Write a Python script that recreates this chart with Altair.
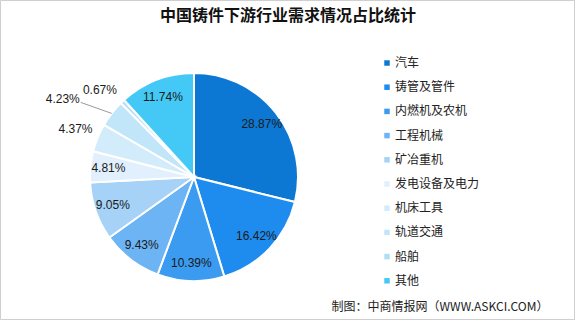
import altair as alt
import pandas as pd

categories = ["汽车", "铸管及管件", "内燃机及农机", "工程机械", "矿冶重机",
              "发电设备及电力", "机床工具", "轨道交通", "船舶", "其他"]
values = [28.87, 16.42, 10.39, 9.43, 9.05, 4.81, 4.37, 4.23, 0.67, 11.74]
palette = ["#0c78d4", "#1e8cee", "#3b9bf0", "#6cb4f4", "#a6d2f7",
           "#e1f0fc", "#d3ecfb", "#c2e6f9", "#afdff7", "#44c9f7"]
title_text = "中国铸件下游行业需求情况占比统计"
source_text = "制图：中商情报网（WWW.ASKCI.COM）"

W, H = 576, 322
CX, CY, R = 194, 177, 104

df = pd.DataFrame({"category": categories, "value": values,
                   "idx": list(range(len(categories)))})
one = pd.DataFrame({"k": [0]})

base = alt.Chart(df)

color = alt.Color(
    "category:N",
    scale=alt.Scale(domain=categories, range=palette),
    sort=categories,
    legend=alt.Legend(
        title=None, orient="none", legendX=381, legendY=57, padding=0,
        symbolType="square", symbolSize=30, symbolStrokeWidth=0,
        labelFontSize=12, labelFont="Noto Sans CJK SC", labelColor="#222222",
        rowPadding=12.2, labelOffset=2,
    ),
)

pie = base.mark_arc(outerRadius=R, stroke="white", strokeWidth=2).encode(
    theta=alt.Theta("value:Q", stack=True),
    order=alt.Order("idx:Q"),
    color=color,
    x=alt.value(CX),
    y=alt.value(CY),
)

lab = (
    base.transform_window(cum="sum(value)", sort=[alt.SortField("idx")], frame=[None, 0])
    .transform_joinaggregate(total="sum(value)")
    .transform_calculate(
        ang="(datum.cum - datum.value/2)/datum.total*2*PI",
        lr="datum.value < 4.5 ? 128 : 86",
        label="format(datum.value, '.2f') + '%'",
    )
    .transform_calculate(
        lx=f"{CX} + datum.lr*sin(datum.ang)",
        ly=f"{CY} - datum.lr*cos(datum.ang)",
        ex=f"{CX} + {R}*sin(datum.ang)",
        ey=f"{CY} - {R}*cos(datum.ang)",
    )
)

text_style = dict(fontSize=12, font="Liberation Sans", color="#1a1a1a",
                  align="center", baseline="middle")
enc = dict(x=alt.X("lx:Q", scale=None), y=alt.Y("ly:Q", scale=None), text="label:N")

labels_main = lab.transform_filter(
    "datum.category != '轨道交通' && datum.category != '船舶'"
).mark_text(**text_style).encode(**enc)

labels_rail = lab.transform_filter("datum.category == '轨道交通'").mark_text(
    dx=-30, dy=0, **text_style).encode(**enc)

labels_ship = lab.transform_filter("datum.category == '船舶'").mark_text(
    dx=-6, dy=6, **text_style).encode(**enc)

leader = (
    lab.transform_filter("datum.category == '轨道交通'")
    .transform_calculate(ex2="datum.ex - 31", ey2="datum.ey - 11")
    .mark_rule(color="#9a9a9a", strokeWidth=1)
    .encode(
        x=alt.X("ex:Q", scale=None),
        y=alt.Y("ey:Q", scale=None),
        x2="ex2:Q",
        y2="ey2:Q",
    )
)

title = alt.Chart(one).mark_text(
    text=title_text, fontSize=16, fontWeight="bold", font="Noto Sans CJK SC",
    color="#111111", align="center", baseline="middle",
).encode(x=alt.value(288), y=alt.value(16))

source = alt.Chart(one).mark_text(
    text=source_text, fontSize=12, font="Noto Sans CJK SC",
    color="#222222", align="center", baseline="middle",
).encode(x=alt.value(440), y=alt.value(307))

frame = alt.Chart(one).mark_rect(fill="transparent", stroke="#cfcfcf", strokeWidth=1).encode(
    x=alt.value(0.5), x2=alt.value(W - 1.5), y=alt.value(0.5), y2=alt.value(H - 2.5)
)

chart = (
    alt.layer(frame, pie, leader, labels_main, labels_rail, labels_ship, title, source)
    .properties(width=W, height=H, autosize=alt.AutoSizeParams(type="none"),
                padding=0, background="white")
    .configure_view(strokeWidth=0)
)

chart.save("out.html", embed_options={"renderer": "svg", "actions": False})
